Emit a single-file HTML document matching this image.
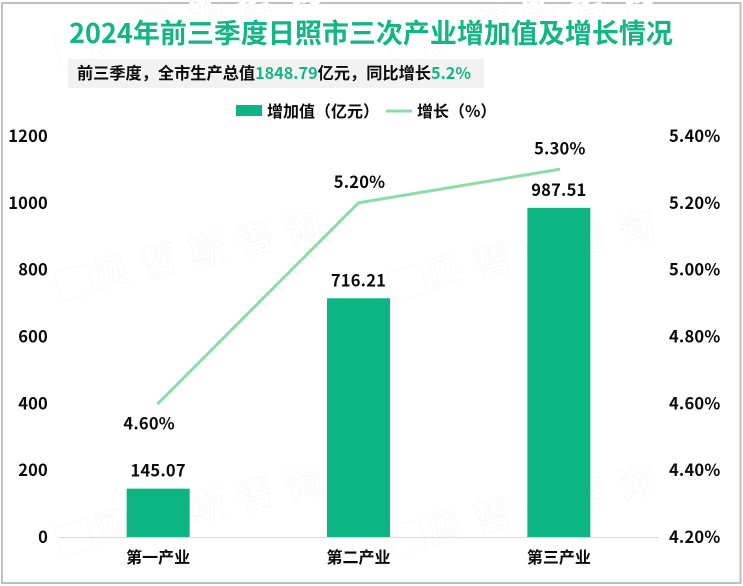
<!DOCTYPE html>
<html lang="zh">
<head>
<meta charset="utf-8">
<title>2024年前三季度日照市三次产业增加值及增长情况</title>
<style>
html,body{margin:0;padding:0;background:#fff;}
body{width:743px;height:586px;overflow:hidden;}
svg{display:block;}
text{font-family:"Liberation Sans","Noto Sans CJK SC",sans-serif;}
.cjk,.cjk text{font-family:"Noto Sans CJK SC","WenQuanYi Zen Hei",sans-serif;}
.num{font-family:"Noto Sans CJK SC","DejaVu Sans",sans-serif;font-weight:700;font-size:16.5px;letter-spacing:0.2px;fill:#0a0a0a;}
</style>
</head>
<body>
<svg id="chart" xmlns="http://www.w3.org/2000/svg" width="743" height="586" viewBox="0 0 743 586">
  <rect x="2" y="3" width="738.5" height="580" fill="#fff" stroke="#bfbfbf" stroke-width="2"/>
  <g id="watermarks" class="cjk" fill="#fff" stroke="#f8f8f8" stroke-width="0.9" font-size="36" font-weight="700"></g>
  <text class="cjk" x="371" y="43" text-anchor="middle" font-size="27" font-weight="700" fill="#12b584">2024年前三季度日照市三次产业增加值及增长情况</text>
  <rect x="68" y="59" width="416" height="29" fill="#f2f2f2"/>
  <text class="cjk" x="77" y="79" font-size="16.2" font-weight="700" fill="#0a0a0a">前三季度，全市生产总值<tspan fill="#12b584">1848.79</tspan>亿元，同比增长<tspan fill="#12b584">5.2%</tspan></text>
  <g id="legend" class="cjk" font-size="16" font-weight="700" fill="#0a0a0a">
    <g>
      <rect x="236" y="105" width="26" height="11" fill="#0db582"/>
      <text x="267" y="117">增加值（亿元）</text>
    </g>
    <g>
      <line x1="386" y1="111" x2="412" y2="111" stroke="#8cdca6" stroke-width="3"/>
      <text x="417" y="117">增长（%）</text>
    </g>
  </g>
  <g id="axes"></g>
  <g id="bars"></g>
  <g id="series-line"></g>
  <g id="labels"></g>
</svg>
<script>
const categories = ['第一产业', '第二产业', '第三产业'];
const addedValue = [145.07, 716.21, 987.51];
const growthRate = [4.60, 5.20, 5.30];
const leftTicks = [0, 200, 400, 600, 800, 1000, 1200];
const rightTicks = [4.20, 4.40, 4.60, 4.80, 5.00, 5.20, 5.40];
const watermarkText = ['贝', '哲', '斯', '咨', '询'];

const NS = 'http://www.w3.org/2000/svg';
const plot = {left: 58, right: 659, top: 136, bottom: 537};
const leftRange = [0, 1200];
const rightRange = [4.2, 5.4];
const barWidth = 63;

function yLeft(v) {
  return plot.bottom - (v - leftRange[0]) / (leftRange[1] - leftRange[0]) * 400;
}
function yRight(v) {
  return plot.bottom - (v - rightRange[0]) / (rightRange[1] - rightRange[0]) * (plot.bottom - plot.top);
}
function xCat(i) {
  return plot.left + (i + 0.5) * (plot.right - plot.left) / categories.length;
}
function make(tag, parent, attrs) {
  const el = document.createElementNS(NS, tag);
  for (const k in attrs) el.setAttribute(k, attrs[k]);
  parent.appendChild(el);
  return el;
}

const axes = document.getElementById('axes');
const bars = document.getElementById('bars');
const lineGroup = document.getElementById('series-line');
const labels = document.getElementById('labels');
const wm = document.getElementById('watermarks');

[[0, -236], [333, -236], [0, 0], [333, 0], [0, 255], [333, 255]].forEach(function (offset) {
  const icon = make('rect', wm, {
    x: 57 + offset[0],
    y: 268 + offset[1],
    width: 34,
    height: 30,
    transform: 'rotate(-15 ' + (73 + offset[0]) + ' ' + (283 + offset[1]) + ')'
  });
  
  
  watermarkText.forEach(function (ch, i) {
    const px = 97 + offset[0] + i * 48;
    const py = 289 + offset[1] - i * 11;
    const t = make('text', wm, {x: px, y: py, transform: 'rotate(-15 ' + px + ' ' + py + ')'});
    
    
    t.textContent = ch;
  });
});

const baseline = make('line', axes, {x1: plot.left, x2: plot.right, y1: plot.bottom + 0.5, y2: plot.bottom + 0.5, stroke: '#d9d9d9', 'stroke-width': 1});



leftTicks.forEach(function (v) {
  const t = make('text', axes, {x: 48, y: plot.bottom - v / 1200 * 401 + 6, 'text-anchor': 'end', class: 'num'});
  
  
  t.textContent = v;
});
rightTicks.forEach(function (v) {
  const t = make('text', axes, {x: 669, y: yRight(v) + 6, class: 'num'});
  
  
  t.textContent = v.toFixed(2) + '%';
});
categories.forEach(function (c, i) {
  const t = make('text', axes, {x: xCat(i), y: 563, 'text-anchor': 'middle', class: 'cjk', 'font-size': 16, 'font-weight': 700, fill: '#0a0a0a'});
  
  
  t.textContent = c;
});

addedValue.forEach(function (v, i) {
  const r = make('rect', bars, {x: xCat(i) - barWidth / 2, y: yLeft(v), width: barWidth, height: plot.bottom - yLeft(v), fill: '#0db582'});
  
  
  const t = make('text', labels, {x: xCat(i), y: yLeft(v) - 12, 'text-anchor': 'middle', class: 'num'});
  
  
  t.textContent = v.toFixed(2);
});

const pts = growthRate.map(function (v, i) { return xCat(i) + ',' + yRight(v); }).join(' ');
const line = make('polyline', lineGroup, {points: pts, fill: 'none', stroke: '#8cdca6', 'stroke-width': 3, 'stroke-linecap': 'round', 'stroke-linejoin': 'round'});



growthRate.forEach(function (v, i) {
  const below = i === 0;
  const t = make('text', labels, {x: xCat(i) + (below ? -9 : 1), y: below ? yRight(v) + 26 : yRight(v) - 15, 'text-anchor': 'middle', class: 'num'});
  
  
  t.textContent = v.toFixed(2) + '%';
});
</script>
</body>
</html>
